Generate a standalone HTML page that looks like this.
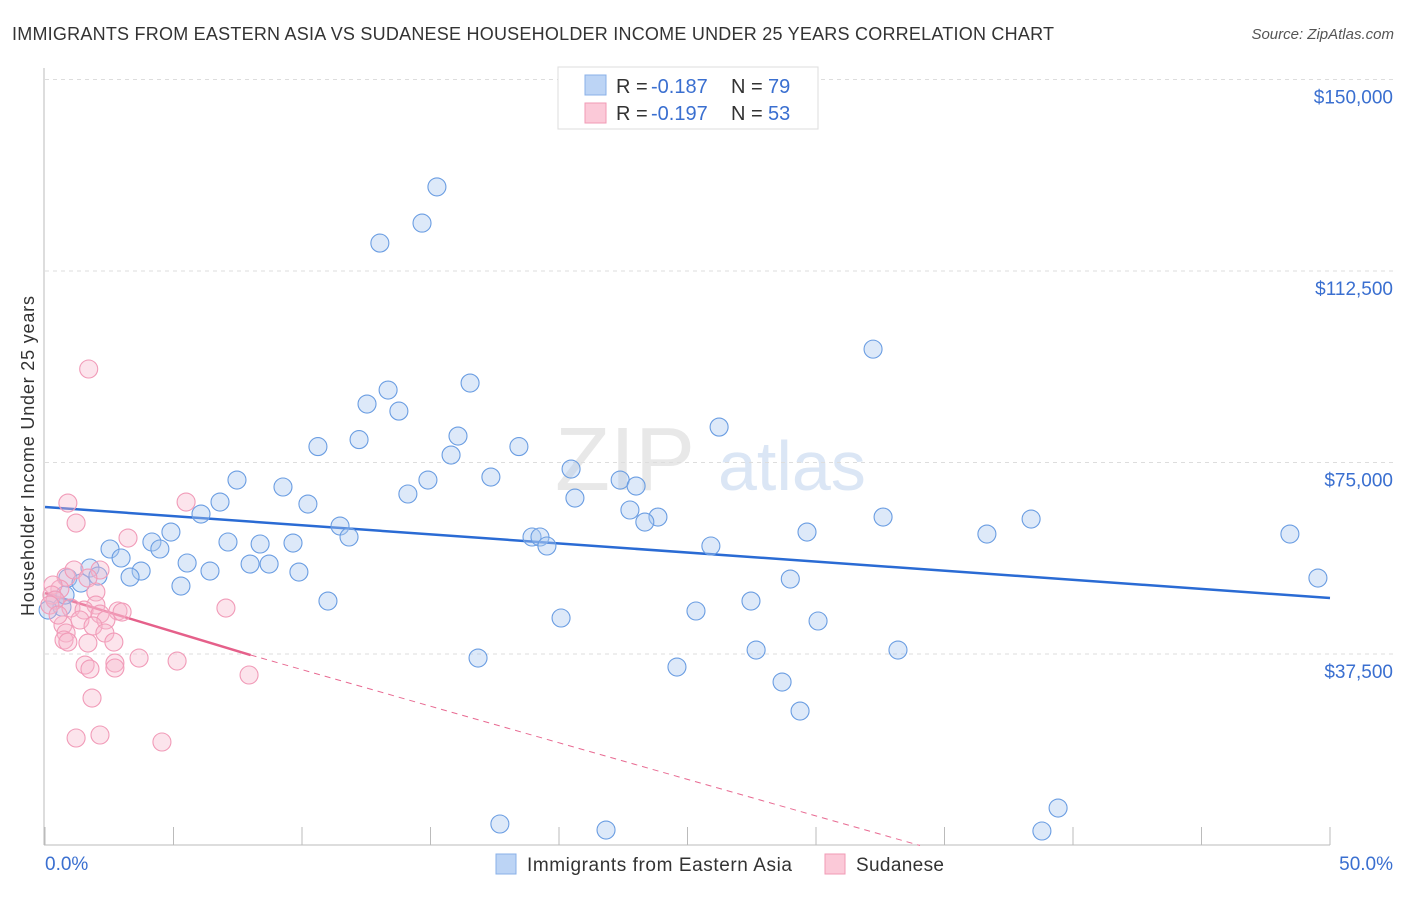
<!DOCTYPE html>
<html><head><meta charset="utf-8"><style>
body{margin:0;background:#fff;font-family:"Liberation Sans",sans-serif;}
svg text{font-family:"Liberation Sans",sans-serif;}
</style></head><body>
<svg id="chart" width="1406" height="892" xmlns="http://www.w3.org/2000/svg">
<text x="12" y="40" font-size="18" fill="#333" textLength="1042">IMMIGRANTS FROM EASTERN ASIA VS SUDANESE HOUSEHOLDER INCOME UNDER 25 YEARS CORRELATION CHART</text>
<text x="1394" y="39" font-size="15" fill="#555" font-style="italic" text-anchor="end">Source: ZipAtlas.com</text>
<g><text x="555" y="490" font-size="90" font-family="Liberation Serif" fill="#e8e8e8">ZIP</text><text x="718" y="490" font-size="70" fill="#dbe6f5">atlas</text></g>
<g id="grid"></g>
<g id="axes"></g>
<text transform="translate(34,456) rotate(-90)" font-size="18" fill="#333" text-anchor="middle" textLength="320">Householder Income Under 25 years</text>
<g id="lines"></g>
<g id="pts"></g>
<g>
<rect x="558" y="67" width="260" height="62" fill="#fff" stroke="#ddd"/>
<rect x="585" y="75" width="21" height="20" fill="#bcd4f5" stroke="#8ab0e8"/>
<rect x="585" y="103" width="21" height="20" fill="#fbc9d8" stroke="#f09ab5"/>
<text x="616" y="93" font-size="20" fill="#333">R =</text><text x="651" y="93" font-size="20" fill="#3a6fd0">-0.187</text><text x="731" y="93" font-size="20" fill="#333">N =</text><text x="768" y="93" font-size="20" fill="#3a6fd0">79</text>
<text x="616" y="120" font-size="20" fill="#333">R =</text><text x="651" y="120" font-size="20" fill="#3a6fd0">-0.197</text><text x="731" y="120" font-size="20" fill="#333">N =</text><text x="768" y="120" font-size="20" fill="#3a6fd0">53</text>
</g>
<g>
<rect x="496" y="854" width="20" height="20" fill="#bcd4f5" stroke="#8ab0e8"/>
<text x="527" y="871" font-size="19" fill="#333" textLength="265">Immigrants from Eastern Asia</text>
<rect x="825" y="854" width="20" height="20" fill="#fbc9d8" stroke="#f09ab5"/>
<text x="856" y="871" font-size="19" fill="#333" textLength="88">Sudanese</text>
</g>
</svg>
<script>
const blueX=[15.25,14.67,13.03,32.22,16.54,13.35,13.77,12.53,16.07,12.22,10.62,18.44,26.23,15.8,20.47,7.47,14.9,17.35,22.38,23.0,9.26,14.12,20.62,6.81,10.23,6.07,22.76,23.85,23.34,32.61,38.37,11.48,4.9,48.44,36.65,29.65,18.95,19.26,11.83,4.16,7.12,8.37,9.65,19.53,25.91,4.47,2.53,2.96,5.53,7.98,8.72,6.42,3.74,9.88,1.75,2.06,3.31,0.89,29.0,49.53,1.4,5.29,11.01,27.47,25.33,20.08,30.08,27.67,33.19,16.85,24.59,28.68,29.38,39.42,17.7,21.83,38.79,0.39,0.66,0.12,0.78];
const blueY=[128970,121880,117970,97200,90560,89190,85070,86450,80180,79490,78120,78120,81940,76460,73720,71570,71570,72150,71570,70390,70200,68830,68040,67260,66870,64910,65700,64320,63340,64320,63930,62560,61380,60990,60990,61380,60410,60410,60410,59430,59430,59040,59230,58650,58650,58060,58060,56300,55320,55120,55120,53750,53750,53550,54340,52770,52570,52380,52180,52380,51400,50810,47870,47870,45920,44550,43960,38280,38280,36710,34950,32010,26330,7340,4210,3030,2840,48070,46700,46110,49050];
const pinkX=[1.7,0.89,5.49,1.21,3.23,0.82,1.13,2.14,1.67,0.58,0.31,0.27,1.98,1.01,1.98,1.52,2.84,2.14,3.0,7.04,1.36,2.37,1.87,0.7,0.82,2.33,0.74,0.89,1.67,2.68,3.66,5.14,1.56,1.75,2.72,2.72,7.94,1.83,1.21,2.14,4.55,0.39,0.19,0.51];
const pinkY=[93310,67060,67260,63150,60210,52570,53950,53950,52380,50220,51010,49050,49640,46500,47090,46110,45920,45330,45720,46500,44160,44160,42990,43180,41610,41610,40240,39840,39650,39840,36710,36120,35340,34560,35730,34760,33390,28880,21050,21640,20270,48070,47090,45130];
const yTicks=[37500,75000,112500,150000];
const yTickLabels=["$37,500","$75,000","$112,500","$150,000"];
const blueTrend=[66280,48460];
const pinkTrend=[49440,37300];
const NS="http://www.w3.org/2000/svg";
const sx=v=>45+v/50*1285, sy=v=>845.5-v/37500*191.5;
function mk(p,t,a){const e=document.createElementNS(NS,t);for(const k in a)e.setAttribute(k,a[k]);p.appendChild(e);return e;}
const grid=document.getElementById('grid'),axes=document.getElementById('axes');
yTicks.forEach((t,i)=>{
 const l=mk(grid,'line',{x1:45,x2:1394,y1:sy(t),y2:sy(t),stroke:'#ddd','stroke-dasharray':'4,4'});
 
 
 const tx=mk(axes,'text',{x:1393,y:sy(t)+24,'font-size':19,fill:'#3a6fd0','text-anchor':'end'});
 tx.textContent=yTickLabels[i];
 
 
});
mk(axes,'line',{x1:44,x2:44,y1:68,y2:845,stroke:'#bbb'});
mk(axes,'line',{x1:44,x2:1330,y1:845,y2:845,stroke:'#bbb'});
for(let i=0;i<=10;i++){const x=sx(i*5);const t=mk(axes,'line',{x1:x,x2:x,y1:827,y2:845,stroke:'#bbb'});
 
 }
const x0=mk(axes,'text',{x:45,y:870,'font-size':19,fill:'#3a6fd0'});x0.textContent='0.0%';


const x1=mk(axes,'text',{x:1393,y:870,'font-size':19,fill:'#3a6fd0','text-anchor':'end'});x1.textContent='50.0%';


const lines=document.getElementById('lines');
const bl=mk(lines,'line',{x1:sx(0),y1:sy(blueTrend[0]),x2:sx(50),y2:sy(blueTrend[1]),stroke:'#2a6bd4','stroke-width':2.5});


const slope=(pinkTrend[1]-pinkTrend[0])/8, xz=-pinkTrend[0]/slope*1.045;
const pd=mk(lines,'line',{x1:sx(8),y1:sy(pinkTrend[1]),x2:sx(xz),y2:sy(0),stroke:'#e86a92','stroke-width':1,'stroke-dasharray':'6,5'});


const pl=mk(lines,'line',{x1:sx(0),y1:sy(pinkTrend[0]),x2:sx(8),y2:sy(pinkTrend[1]),stroke:'#e5608a','stroke-width':2.5});


const pts=document.getElementById('pts');
blueX.forEach((x,i)=>{const c=mk(pts,'circle',{cx:sx(x),cy:sy(blueY[i]),r:9,fill:'rgba(170,200,240,0.4)',stroke:'#6a9de2','stroke-width':1.1});
 
 });
pinkX.forEach((x,i)=>{const c=mk(pts,'circle',{cx:sx(x),cy:sy(pinkY[i]),r:9,fill:'rgba(248,185,205,0.38)',stroke:'#f19bb8','stroke-width':1.1});
 
 });
</script>
</body></html>
